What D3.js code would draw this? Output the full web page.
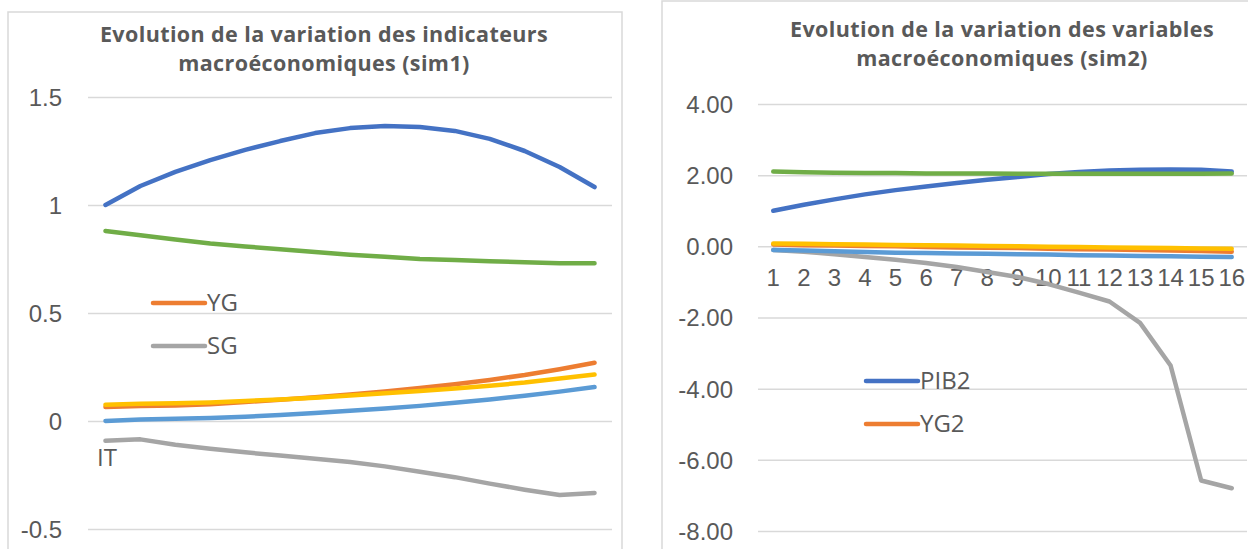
<!DOCTYPE html>
<html lang="fr">
<head>
  <meta charset="UTF-8">
  <title>Evolution de la variation des indicateurs macroéconomiques</title>
  <script src="https://d3js.org/d3.v7.min.js"></script>
  <style>
    body { margin: 0; background: #fff; font-family: "Open Sans", Arial, sans-serif; }
    .title { font-weight: bold; fill: #595959; font-size: 21.5px; letter-spacing: 0.4px; text-anchor: middle; }
    .tick text { fill: #595959; font-size: 24px; }
    .grid line { stroke: #d9d9d9; stroke-width: 1.5px; }
    .grid .domain { display: none; }
    .frame { fill: none; stroke: #d9d9d9; stroke-width: 1.5px; }
    .series { fill: none; stroke-width: 4.5px; stroke-linecap: round; stroke-linejoin: round; }
    .legend text { fill: #595959; font-size: 24px; }
  </style>
</head>
<body>
  <svg id="chart" width="1248" height="549"></svg>

  <script>
    // sim1 data (15 periods)
    const periods1 = d3.range(1, 16);
    const pib1 = [1.0, 1.088, 1.153, 1.208, 1.255, 1.296, 1.333, 1.356, 1.366, 1.361, 1.343, 1.306, 1.25, 1.176, 1.083];
    const green1 = [0.88, 0.86, 0.84, 0.822, 0.808, 0.795, 0.782, 0.77, 0.76, 0.75, 0.745, 0.74, 0.735, 0.73, 0.73];
    const yg1 = [0.065, 0.07, 0.072, 0.078, 0.088, 0.098, 0.11, 0.123, 0.137, 0.153, 0.17, 0.19, 0.213, 0.24, 0.27];
    const yellow1 = [0.075, 0.08, 0.082, 0.086, 0.093, 0.1, 0.108, 0.118, 0.128, 0.139, 0.15, 0.163, 0.178, 0.197, 0.215];
    const it1 = [0.0, 0.007, 0.01, 0.014, 0.02, 0.028, 0.037, 0.047, 0.058, 0.07, 0.084, 0.1, 0.117, 0.136, 0.157];
    const sg1 = [-0.092, -0.085, -0.11, -0.128, -0.145, -0.16, -0.175, -0.19, -0.21, -0.235, -0.26, -0.29, -0.318, -0.343, -0.333];
    const ticks1 = [-0.5, 0, 0.5, 1, 1.5];

    // sim2 data (16 periods)
    const periods2 = d3.range(1, 17);
    const pib2 = [1.0, 1.17, 1.32, 1.46, 1.58, 1.68, 1.78, 1.87, 1.95, 2.03, 2.09, 2.13, 2.15, 2.16, 2.15, 2.1];
    const green2 = [2.1, 2.08, 2.07, 2.06, 2.06, 2.05, 2.05, 2.05, 2.04, 2.04, 2.04, 2.04, 2.04, 2.04, 2.04, 2.05];
    const yg2 = [0.05, 0.03, 0.02, 0.01, 0.0, -0.02, -0.03, -0.04, -0.05, -0.07, -0.08, -0.09, -0.1, -0.12, -0.13, -0.15];
    const yellow2 = [0.08, 0.07, 0.06, 0.05, 0.04, 0.03, 0.02, 0.01, 0.0, -0.01, -0.02, -0.03, -0.04, -0.05, -0.06, -0.07];
    const it2 = [-0.1, -0.12, -0.14, -0.16, -0.18, -0.19, -0.2, -0.21, -0.22, -0.23, -0.25, -0.26, -0.27, -0.28, -0.29, -0.3];
    const sg2 = [-0.1, -0.15, -0.22, -0.3, -0.38, -0.47, -0.58, -0.72, -0.86, -1.06, -1.3, -1.55, -2.15, -3.35, -6.58, -6.8];
    const ticks2 = [-8, -6, -4, -2, 0, 2, 4];

    const colors = { pib: "#4472C4", yg: "#ED7D31", sg: "#A5A5A5", yellow: "#FFC000", it: "#5B9BD5", green: "#70AD47" };

    // Excel-style labels use a plain hyphen for negatives
    const hyphen = f => d => f(d).replace("\u2212", "-");

    const svg = d3.select("#chart");

    function drawChart(opts) {
      const g = svg.append("g");

      g.append("rect").attr("class", "frame")
        .attr("x", opts.frame[0]).attr("y", opts.frame[1])
        .attr("width", opts.frame[2]).attr("height", opts.frame[3]);

      opts.title.forEach((t, i) => {
        g.append("text").attr("class", "title")
          .attr("x", opts.titleX).attr("y", opts.titleY + i * 29)
          .text(t);
      });

      const x = d3.scaleBand().domain(opts.periods).range([opts.left, opts.right]);
      const y = d3.scaleLinear().domain(opts.domain).range(opts.yRange);

      g.append("g").attr("class", "grid")
        .attr("transform", `translate(${opts.left},0)`)
        .call(d3.axisLeft(y).tickValues(opts.ticks).tickFormat(opts.fmt)
          .tickSize(-(opts.right - opts.left)).tickPadding(opts.left - opts.labelX))
        .selectAll(".tick text").attr("dy", "0.35em");

      if (opts.showX) {
        g.append("g")
          .attr("transform", `translate(0,${y(0)})`)
          .call(d3.axisBottom(x).tickSize(0).tickPadding(23))
          .call(a => a.select(".domain").remove())
          .selectAll("text").style("font-size", "24px").attr("fill", "#595959");
      }

      const line = d3.line()
        .x((d, i) => x(opts.periods[i]) + x.bandwidth() / 2)
        .y(d => y(d));

      opts.series.forEach(s => {
        g.append("path").attr("class", "series")
          .attr("d", line(s.values))
          .attr("stroke", s.color);
      });

      const lg = g.append("g").attr("class", "legend");
      opts.legend.forEach(l => {
        if (l.color) {
          lg.append("line").attr("x1", l.x).attr("x2", l.x + 52)
            .attr("y1", l.y).attr("y2", l.y)
            .attr("stroke", l.color).attr("stroke-width", 4.5).attr("stroke-linecap", "round");
          lg.append("text").attr("x", l.x + 54).attr("y", l.y).attr("dy", "0.35em").text(l.name);
        } else {
          lg.append("text").attr("x", l.x).attr("y", l.y).attr("dy", "0.35em").text(l.name);
        }
      });
    }

    drawChart({
      frame: [8, 12, 614, 560],
      title: ["Evolution de la variation des indicateurs", "macroéconomiques (sim1)"],
      titleX: 324, titleY: 42,
      periods: periods1,
      left: 88, right: 612, labelX: 62,
      domain: [-0.5, 1.5], yRange: [529, 97],
      ticks: ticks1, fmt: hyphen(d3.format("")),
      showX: false,
      series: [
        { values: green1, color: colors.green },
        { values: sg1, color: colors.sg },
        { values: it1, color: colors.it },
        { values: yg1, color: colors.yg },
        { values: yellow1, color: colors.yellow },
        { values: pib1, color: colors.pib }
      ],
      legend: [
        { name: "YG", color: colors.yg, x: 153, y: 303 },
        { name: "SG", color: colors.sg, x: 153, y: 346 },
        { name: "IT", x: 97, y: 458 }
      ]
    });

    drawChart({
      frame: [662, 1, 600, 560],
      title: ["Evolution de la variation des variables", "macroéconomiques (sim2)"],
      titleX: 1002, titleY: 37,
      periods: periods2,
      left: 758, right: 1247, labelX: 733,
      domain: [-8, 4], yRange: [531, 104],
      ticks: ticks2, fmt: hyphen(d3.format(".2f")),
      showX: true,
      series: [
        { values: sg2, color: colors.sg },
        { values: it2, color: colors.it },
        { values: yg2, color: colors.yg },
        { values: yellow2, color: colors.yellow },
        { values: pib2, color: colors.pib },
        { values: green2, color: colors.green }
      ],
      legend: [
        { name: "PIB2", color: colors.pib, x: 866, y: 381 },
        { name: "YG2", color: colors.yg, x: 866, y: 424 }
      ]
    });
  </script>
</body>
</html>
